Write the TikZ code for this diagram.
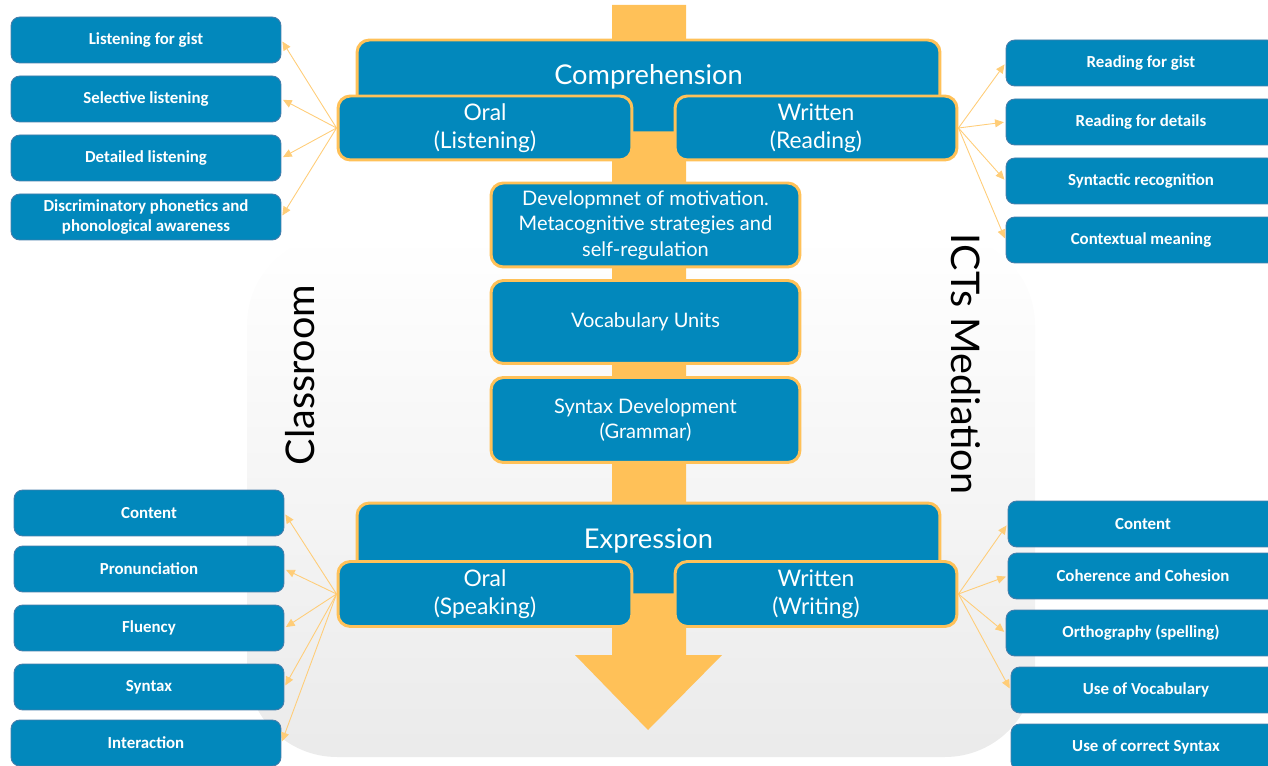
\documentclass[tikz,border=0pt]{standalone}
\usepackage{fontspec}
\setmainfont{Lato}
\newfontfamily\smallfont{Carlito}
\usetikzlibrary{arrows.meta}
\definecolor{boxblue}{RGB}{2,136,188}
\definecolor{boxedge}{RGB}{70,125,170}
\definecolor{flow}{RGB}{255,193,88}
\definecolor{feedline}{RGB}{255,205,120}
\tikzset{
  mainbox/.style={draw=flow, line width=1.7pt, fill=boxblue, rounded corners=7pt,
    text=white, align=center, inner sep=0pt, font=\fontsize{13}{16}\selectfont},
  midbox/.style={mainbox, font=\fontsize{11.4}{14.5}\selectfont},
  titletext/.style={text=white, inner sep=0pt, font=\fontsize{15.5}{18}\selectfont},
  subbox/.style={draw=boxedge, line width=0.5pt, fill=boxblue, rounded corners=5pt,
    text=white, align=center, inner sep=0pt, minimum width=5.4cm, minimum height=0.92cm,
    font=\smallfont\bfseries\fontsize{9.6}{11.3}\selectfont},
  sidetext/.style={inner sep=0pt, font=\fontsize{22.5}{26}\selectfont},
  feed/.style={draw=feedline, line width=0.5pt, -{Triangle[length=5pt,width=4.5pt]}, shorten >=1pt}
}
\begin{document}
\begin{tikzpicture}[x=0.02cm, y=-0.02cm]
  \useasboundingbox (0,0) rectangle (1268,766);
  % background panel
  \shade[top color=white, bottom color=black!8, rounded corners=1.8cm]
    (247,235) rectangle (1035,757);
  % central flow arrow
  \fill[flow] (612,5) -- (686,5) -- (686,655) -- (722,655) -- (648,730)
    -- (575,655) -- (612,655) -- cycle;

  % comprehension block
  \node[mainbox, minimum width=11.66cm, minimum height=1.86cm] (comp) at (648.5,86.5) {};
  \node[titletext] (comptxt) at (648.5,77) {Comprehension};
  \node[mainbox, minimum width=5.88cm, minimum height=1.28cm] (listen) at (485,128) {Oral\\(Listening)};
  \node[mainbox, minimum width=5.64cm, minimum height=1.28cm] (read) at (816,128) {Written\\(Reading)};

  % middle steps
  \node[midbox, minimum width=6.18cm, minimum height=1.68cm] (motiv) at (645.5,225)
    {Developmnet of motivation.\\Metacognitive strategies and\\self-regulation};
  \node[midbox, minimum width=6.18cm, minimum height=1.66cm] (vocab) at (645.5,322) {Vocabulary Units};
  \node[midbox, minimum width=6.18cm, minimum height=1.70cm] (synt) at (645.5,420)
    {Syntax Development\\(Grammar)};

  % expression block
  \node[mainbox, minimum width=11.66cm, minimum height=1.84cm] (expr) at (648.5,549) {};
  \node[titletext] (exprtxt) at (648.5,541) {Expression};
  \node[mainbox, minimum width=5.88cm, minimum height=1.30cm] (speak) at (485,594) {Oral\\(Speaking)};
  \node[mainbox, minimum width=5.64cm, minimum height=1.30cm] (write) at (816,594) {Written\\(Writing)};

  % listening skills
  \node[subbox] (gist)  at (146,40)  {Listening for gist};
  \node[subbox] (selec) at (146,99)  {Selective listening};
  \node[subbox] (detl)  at (146,158) {Detailed listening};
  \node[subbox] (phon)  at (146,217) {Discriminatory phonetics and\\phonological awareness};
  % reading skills
  \node[subbox] (rgist) at (1141,63)  {Reading for gist};
  \node[subbox] (rdet)  at (1141,122) {Reading for details};
  \node[subbox] (rsyn)  at (1141,181) {Syntactic recognition};
  \node[subbox] (rctx)  at (1141,240) {Contextual meaning};
  % speaking skills
  \node[subbox] (scont) at (149,513) {Content};
  \node[subbox] (spron) at (149,569) {Pronunciation};
  \node[subbox] (sflu)  at (149,628) {Fluency};
  \node[subbox] (ssyn)  at (149,687) {Syntax};
  \node[subbox] (sint)  at (146,743) {Interaction};
  % writing skills
  \node[subbox] (wcont) at (1143,524) {Content};
  \node[subbox] (wcoh)  at (1143,576) {Coherence and Cohesion};
  \node[subbox] (worth) at (1141,633) {Orthography (spelling)};
  \node[subbox] (wvoc)  at (1146,690) {Use of Vocabulary};
  \node[subbox] (wsyn)  at (1146,747) {Use of correct Syntax};

  % connectors
  \foreach \t in {gist,selec,detl,phon} \draw[feed] (listen.west) -- (\t.east);
  \foreach \t in {rgist,rdet,rsyn,rctx} \draw[feed] (read.east) -- (\t.west);
  \foreach \t in {scont,spron,sflu,ssyn,sint} \draw[feed] (speak.west) -- (\t.east);
  \foreach \t in {wcont,wcoh,worth,wvoc} \draw[feed] (write.east) -- (\t.west);

  % side labels
  \node[sidetext, rotate=90]  (room) at (300,375) {Classroom};
  \node[sidetext, rotate=-90] (icts) at (966,364) {ICTs Mediation};
\end{tikzpicture}
\end{document}
